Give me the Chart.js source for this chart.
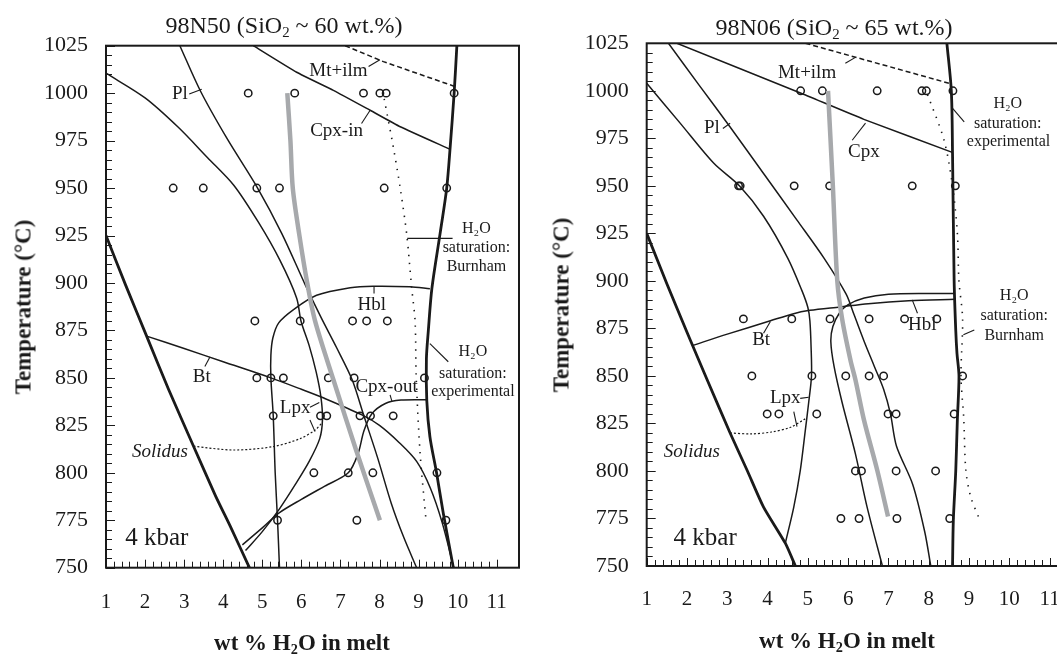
<!DOCTYPE html>
<html><head><meta charset="utf-8">
<title>Phase diagrams 98N50 and 98N06</title>
<script src="https://cdn.jsdelivr.net/npm/chart.js@4.4.1/dist/chart.umd.min.js"></script>
<style>
html,body{margin:0;padding:0;background:#fff;overflow:hidden;width:1057px;height:654px;position:relative;}
canvas{position:absolute;top:0;}
#cL{left:0;}
#cR{left:530px;}
.t{position:absolute;font-family:"Liberation Serif","Times New Roman",serif;color:#1a1a1a;white-space:nowrap;transform:translate(-50%,-50%);line-height:1;}
.ttl{font-size:24px;}
.ax{font-size:23px;font-weight:bold;}
.rot{transform:translate(-50%,-50%) rotate(-90deg);}
sub{font-size:0.62em;vertical-align:-0.3em;line-height:0;}
</style></head><body>
<canvas id="cL" width="530" height="654"></canvas>
<canvas id="cR" width="551" height="654"></canvas>
<div class="t ttl" style="left:284px;top:25px">98N50 (SiO<sub>2</sub> ~ 60 wt.%)</div>
<div class="t ttl" style="left:834px;top:27px">98N06 (SiO<sub>2</sub> ~ 65 wt.%)</div>
<div class="t ax rot" style="left:23px;top:307px">Temperature (°C)</div>
<div class="t ax rot" style="left:561px;top:305px">Temperature (°C)</div>
<div class="t ax" style="left:302px;top:642px">wt % H<sub>2</sub>O in melt</div>
<div class="t ax" style="left:847px;top:640px">wt % H<sub>2</sub>O in melt</div>
<script>
// ---------- axis values ----------
const tempMin = 750, tempMax = 1025, tempStep = 25;
const waterMin = 1, waterStep = 1;
const waterMaxLeft = 11.57, waterMaxRight = 11.33;

// ---------- LEFT PANEL: 98N50 ----------
// experimental runs [wt% H2O, T]
const L_runs = [
  [4.64,1000],[5.83,1000],[7.59,1000],[8.01,1000],[8.17,1000],[9.91,1000],
  [2.72,950],[3.49,950],[4.86,950],[5.44,950],[8.12,950],[9.72,950],
  [4.81,880],[5.97,880],[7.31,880],[7.67,880],[8.20,880],
  [4.86,850],[5.22,850],[5.54,850],[6.69,850],[7.35,850],[9.15,850],
  [5.28,830],[6.49,830],[6.65,830],[7.50,830],[7.77,830],[8.35,830],
  [6.32,800],[7.20,800],[7.83,800],[9.47,800],
  [5.39,775],[7.42,775],[9.70,775]
];
const L_grey = [[5.64,1000],[5.72,975],[5.78,950],[5.95,925],[6.15,900],[6.35,880],[6.82,849],[7.4,812],[8.01,775]];
const L_solidusLine = [[1,925],[1.5,899],[2.04,872],[2.6,844],[3.24,814],[3.8,788],[4.2,771],[4.67,750]];
const L_satExp = [[9.98,1025],[9.91,1000],[9.81,972],[9.72,950],[9.55,926],[9.34,897],[9.25,875],[9.2,860],[9.21,838],[9.29,819],[9.46,800],[9.63,779],[9.89,750]];
const L_pl = [[2.89,1025],[3.42,1001],[4.1,976],[4.88,950],[5.5,926],[6.1,899],[6.5,882],[6.9,866],[7.3,849],[7.6,830],[7.95,808],[8.3,784],[8.62,766],[8.95,750]];
const L_lpx = [[1,1010.5],[2.0,997.5],[2.85,982],[3.6,966],[4.27,951.5],[4.9,932],[5.45,912],[5.88,892],[5.99,880],[6.2,867],[6.38,853],[6.5,840],[6.54,828],[6.47,818],[6.2,806],[5.85,794],[5.44,781],[5.0,769],[4.57,759]];
const L_hbl = [[5.44,750],[5.39,775],[5.33,800],[5.28,830],[5.22,850],[5.22,862],[5.27,871],[5.42,879],[5.8,886],[6.39,893.5],[7.25,897.5],[7.84,898.3],[8.78,898],[9.29,897]];
const L_bt = [[2.04,872],[3.0,865.5],[4.0,858.5],[5.22,850],[6.0,844],[6.56,839.5],[7.55,830.5],[8.0,825],[8.5,816],[8.95,806],[9.3,792],[9.6,774],[9.9,750]];
const L_cpxOut = [[4.49,762],[5.0,771],[5.44,779],[6.0,786],[6.6,793],[7.2,800],[7.45,810],[7.6,822],[7.8,831],[8.15,836.5],[8.55,838.3],[9.21,838.5]];
const L_cpxIn = [[4.77,1025],[5.88,1011],[6.82,1001.5],[7.76,991],[8.53,982.3],[9.8,970.5]];
const L_mtIlm = [[7.12,1025],[8.10,1016.6],[9.93,1003.5]];
const L_burnham = [[8.12,997],[8.35,972],[8.53,950],[8.70,925],[8.82,898],[8.91,880],[8.94,850],[9.04,810],[9.19,775]];
const L_solidusDash = [[3.24,814],[4.26,812],[5.28,813.8],[5.97,818],[6.35,822.5],[6.52,826]];
const L_leaders = [
  [[3.13,999.5],[3.45,1002]], [[7.72,1014],[8.01,1017.6]], [[7.54,984],[7.76,991]],
  [[8.71,923.5],[9.87,923.5]], [[7.86,894.5],[7.86,898]], [[9.29,868],[9.76,858.5]],
  [[8.27,841],[8.32,837.5]], [[3.53,856],[3.66,861]], [[6.22,834.5],[6.46,837]], [[6.22,827.8],[6.35,821.7]]
];
const L_labels = [
  {t:'Pl', x:2.89, y:999.5}, {t:'Mt+ilm', x:6.95, y:1011.7}, {t:'Cpx-in', x:6.90, y:980},
  {t:'H\u2082O', x:10.48, y:928.8, s:16}, {t:'saturation:', x:10.48, y:918.3, s:16}, {t:'Burnham', x:10.48, y:908.6, s:16},
  {t:'Hbl', x:7.80, y:888.4},
  {t:'H\u2082O', x:10.39, y:863.8, s:16}, {t:'saturation:', x:10.39, y:852.4, s:16}, {t:'experimental', x:10.39, y:842.7, s:16},
  {t:'Cpx-out', x:8.18, y:845.4}, {t:'Bt', x:3.45, y:850.3}, {t:'Lpx', x:5.84, y:834},
  {t:'Solidus', x:2.38, y:811.1, i:true}, {t:'4 kbar', x:2.30, y:765.5, s:25}
];

// ---------- RIGHT PANEL: 98N06 ----------
const R_runs = [
  [4.82,1000],[5.36,1000],[6.72,1000],[7.83,1000],[7.94,1000],[8.60,1000],
  [3.28,950],[3.32,950],[4.66,950],[5.54,950],[7.59,950],[8.66,950],
  [3.40,880],[4.60,880],[5.55,880],[6.52,880],[7.40,880],[8.20,880],
  [3.61,850],[5.10,850],[5.94,850],[6.52,850],[6.88,850],[8.84,850],
  [3.99,830],[4.28,830],[5.22,830],[6.99,830],[7.19,830],[8.63,830],
  [6.18,800],[6.33,800],[7.19,800],[8.17,800],
  [5.82,775],[6.27,775],[7.21,775],[8.52,775]
];
const R_grey = [[5.5,1000],[5.62,950],[5.73,900],[5.85,880],[6.06,858],[6.18,848],[6.39,827],[6.72,800.5],[6.99,776]];
const R_solidusLine = [[1,925],[1.5,898.5],[2.0,873],[2.5,848],[3.07,820],[3.5,800],[3.9,781],[4.44,762],[4.69,750]];
const R_satExp = [[8.45,1025],[8.56,1000],[8.59,967],[8.63,900],[8.67,874],[8.70,862],[8.75,850],[8.71,827],[8.67,800],[8.61,774],[8.59,750]];
const R_pl = [[1.54,1025],[2.3,1003],[3.07,981],[3.9,956.5],[4.73,932],[5.4,912],[5.95,893],[6.15,882],[6.4,868],[6.65,855],[6.88,843],[7.05,830],[7.2,813],[7.6,793],[7.9,768],[8.05,750]];
const R_lpx = [[1,1004],[1.83,983],[2.66,962],[3.3,950],[3.9,934],[4.5,912],[4.85,895],[5.0,886],[5.05,879],[5.08,865],[5.09,850],[5.02,836],[4.94,822],[4.81,800],[4.65,781],[4.44,762]];
const R_bt = [[2.14,866],[3.0,872],[4.07,879],[4.6,882.5],[5.05,884.5],[5.8,886.3],[6.5,888],[7.5,889.5],[8.65,890.3]];
const R_hbl = [[6.85,750],[6.47,781],[6.18,809],[5.85,836],[5.65,855],[5.57,868],[5.62,876],[5.78,883],[6.0,887.5],[6.4,891],[7.0,893],[8.0,893.4],[8.65,893.4]];
const R_cpx = [[1.75,1025],[4.8,999],[6.39,985],[8.6,967.5]];
const R_mtIlm = [[4.94,1025],[8.5,1004]];
const R_burnham = [[7.97,998],[8.38,974],[8.59,950],[8.71,925],[8.75,900],[8.84,880],[8.80,850],[8.87,827],[8.92,800.5],[9.04,786.5],[9.25,775]];
const R_solidusDash = [[3.07,820],[3.6,819.5],[4.1,820.5],[4.57,823],[4.94,827.5]];
const R_leaders = [
  [[2.89,980.2],[3.07,982.9]], [[5.93,1014.5],[6.18,1017.6]], [[6.10,974],[6.43,983]],
  [[8.56,991.6],[8.88,983.7]], [[8.86,871.6],[9.13,874.2]], [[7.72,883],[7.59,890]],
  [[3.90,872.5],[4.07,878.6]], [[4.81,838.2],[5.02,838.8]], [[4.65,831.2],[4.73,823.3]]
];
const R_labels = [
  {t:'Pl', x:2.62, y:980.2}, {t:'Mt+ilm', x:4.98, y:1009.2}, {t:'Cpx', x:6.39, y:967.9},
  {t:'H\u2082O', x:9.96, y:993.4, s:16}, {t:'saturation:', x:9.96, y:982.9, s:16}, {t:'experimental', x:9.98, y:973.2, s:16},
  {t:'H\u2082O', x:10.12, y:892.1, s:16}, {t:'saturation:', x:10.12, y:881.6, s:16}, {t:'Burnham', x:10.12, y:871.3, s:16},
  {t:'Hbl', x:7.84, y:876.8}, {t:'Bt', x:3.84, y:869}, {t:'Lpx', x:4.44, y:838.2},
  {t:'Solidus', x:2.12, y:810.2, i:true}, {t:'4 kbar', x:2.45, y:764.6, s:25}
];

// ---------- helpers ----------
const INK = '#1a1a1a';
const FONT = '"Liberation Serif", "Times New Roman", serif';
const toXY = a => a.map(([x, y]) => ({x, y}));
function curve(data, o) {
  return Object.assign({type:'scatter', data: toXY(data), showLine:true, pointRadius:0, pointHoverRadius:0,
    borderColor: INK, borderWidth:1.5, tension:0.3, fill:false}, o || {});
}
function buildDatasets(P) {
  const ds = [];
  ds.push(curve(P.grey, {borderColor:'#a7a9ac', borderWidth:4.5, tension:0.3, borderCapStyle:'butt'}));
  ds.push({type:'scatter', data: toXY(P.runs), showLine:false, pointRadius:3.7, pointHoverRadius:3.7,
    pointBorderWidth:1.5, pointBorderColor: INK, pointBackgroundColor:'rgba(0,0,0,0)'});
  ds.push(curve(P.solidusLine, {borderWidth:2.8, tension:0.2}));
  ds.push(curve(P.satExp, {borderWidth:2.8, tension:0.3}));
  ds.push(curve(P.pl));
  ds.push(curve(P.lpx));
  ds.push(curve(P.hbl));
  ds.push(curve(P.bt));
  if (P.cpxOut) ds.push(curve(P.cpxOut));
  ds.push(curve(P.cpx, {tension:0.15}));
  ds.push(curve(P.mtIlm, {borderDash:[5,3], borderWidth:1.5, tension:0}));
  ds.push(curve(P.burnham, {borderDash:[1.4,6.5], borderWidth:1.6, tension:0.3}));
  ds.push(curve(P.solidusDash, {borderDash:[2,2], borderWidth:1.2, tension:0.3}));
  P.leaders.forEach(l => ds.push(curve(l, {borderWidth:1.1, tension:0})));
  return ds;
}

const inwardTicks = {
  id:'inwardTicks',
  afterDatasetsDraw(chart, args, opts) {
    const {ctx, chartArea:a, scales:{x, y}} = chart;
    ctx.save(); ctx.strokeStyle = INK; ctx.lineWidth = 1;
    for (let i = 0; ; i++) {
      const v = waterMin + i * 0.2;
      if (v > opts.xEnd + 1e-6) break;
      const px = Math.round(x.getPixelForValue(v)) + 0.5;
      const len = (i % 5 === 0) ? 8 : 6;
      ctx.beginPath(); ctx.moveTo(px, a.bottom); ctx.lineTo(px, a.bottom - len); ctx.stroke();
    }
    for (let v = tempMin; v <= tempMax; v += 5) {
      const py = Math.round(y.getPixelForValue(v)) + 0.5;
      const len = (v % 25 === 0) ? 9 : 6;
      ctx.beginPath(); ctx.moveTo(a.left, py); ctx.lineTo(a.left + len, py); ctx.stroke();
    }
    ctx.restore();
  }
};
const frame = {
  id:'frame',
  afterDatasetsDraw(chart) {
    const {ctx, chartArea:a} = chart;
    ctx.save(); ctx.strokeStyle = INK; ctx.lineWidth = 2;
    ctx.strokeRect(a.left, a.top, a.right - a.left, a.bottom - a.top);
    ctx.restore();
  }
};
const textLabels = {
  id:'textLabels',
  afterDatasetsDraw(chart, args, opts) {
    const {ctx, scales:{x, y}} = chart;
    ctx.save(); ctx.fillStyle = INK; ctx.textAlign = 'center'; ctx.textBaseline = 'middle';
    opts.items.forEach(it => {
      ctx.font = (it.i ? 'italic ' : '') + (it.s || 19) + 'px ' + FONT;
      ctx.fillText(it.t, x.getPixelForValue(it.x), y.getPixelForValue(it.y));
    });
    ctx.restore();
  }
};

function makeChart(id, P, cfg) {
  return new Chart(document.getElementById(id), {
    type:'scatter',
    data:{datasets: buildDatasets(P)},
    plugins:[inwardTicks, frame, textLabels],
    options:{
      responsive:false, animation:false, devicePixelRatio:1, events:[],
      layout:{padding:{top:cfg.top, right:cfg.right, left:0, bottom:0}},
      plugins:{legend:{display:false}, tooltip:{enabled:false}, title:{display:false},
        inwardTicks:{xEnd:cfg.xEnd}, textLabels:{items:P.labels}},
      scales:{
        x:{type:'linear', min:waterMin, max:cfg.xMax, grid:{display:false, drawTicks:false}, border:{display:false},
          ticks:{stepSize:waterStep, includeBounds:false, autoSkip:false, maxRotation:0, padding:cfg.xPad,
            font:{family:FONT, size:21}, color:INK, callback:v => String(v)},
          afterFit: s => { s.height = cfg.xH; }},
        y:{type:'linear', min:tempMin, max:tempMax, grid:{display:false, drawTicks:false}, border:{display:false},
          ticks:{stepSize:tempStep, autoSkip:false, padding:18, font:{family:FONT, size:22}, color:INK, callback:v => String(v)},
          afterFit: s => { s.width = cfg.yW; }}
      }
    }
  });
}

makeChart('cL', {runs:L_runs, grey:L_grey, solidusLine:L_solidusLine, satExp:L_satExp, pl:L_pl, lpx:L_lpx, hbl:L_hbl,
  bt:L_bt, cpxOut:L_cpxOut, cpx:L_cpxIn, mtIlm:L_mtIlm, burnham:L_burnham, solidusDash:L_solidusDash,
  leaders:L_leaders, labels:L_labels},
  {top:45.7, right:11, xMax:waterMaxLeft, xEnd:11, xPad:22, xH:86.3, yW:106});
makeChart('cR', {runs:R_runs, grey:R_grey, solidusLine:R_solidusLine, satExp:R_satExp, pl:R_pl, lpx:R_lpx, hbl:R_hbl,
  bt:R_bt, cpxOut:null, cpx:R_cpx, mtIlm:R_mtIlm, burnham:R_burnham, solidusDash:R_solidusDash,
  leaders:R_leaders, labels:R_labels},
  {top:43.3, right:8, xMax:waterMaxRight, xEnd:11.3, xPad:21, xH:88, yW:116.7});
</script>
</body></html>
